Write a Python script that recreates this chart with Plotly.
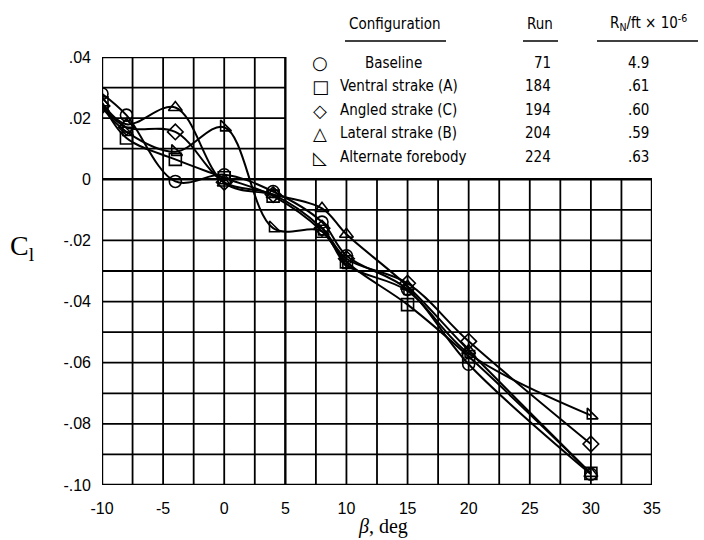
import plotly.graph_objects as go
import numpy as np

# ---- data ----
beta = [-10, -8, -4, 0, 4, 8, 10, 15, 20, 30]
baseline = [0.0280, 0.0210, -0.0007, 0.0015, -0.0040, -0.0140, -0.0250, -0.0360, -0.0605, -0.0965]
ventral_a = [0.0250, 0.0135, 0.0065, 0.0005, -0.0055, -0.0170, -0.0270, -0.0410, -0.0580, -0.0962]
angled_c = [0.0240, 0.0170, 0.0155, -0.0010, -0.0050, -0.0160, -0.0260, -0.0340, -0.0530, -0.0866]
lateral_b = [0.0250, 0.0180, 0.0235, -0.0012, -0.0050, -0.0095, -0.0180, -0.0350, -0.0560, -0.0962]
alt_fore = [0.0235, 0.0155, 0.0090, 0.0170, -0.0160, -0.0170, -0.0280, -0.0365, -0.0570, -0.0772]

series_names = ["Baseline", "Ventral strake (A)", "Angled strake (C)", "Lateral strake (B)", "Alternate forebody"]
runs = ["71", "184", "194", "204", "224"]
rn = ["4.9", ".61", ".60", ".59", ".63"]
legend_syms = ["○", "□", "◇", "△", "◺"]

x_ticks = [-10, -5, 0, 5, 10, 15, 20, 25, 30, 35]
x_ticktext = ["-10", "-5", "0", "5", "10", "15", "20", "25", "30", "35"]
y_ticks = [0.04, 0.02, 0, -0.02, -0.04, -0.06, -0.08, -0.10]
y_ticktext = [".04", ".02", "0", "-.02", "-.04", "-.06", "-.08", "-.10"]

# ---- layout geometry ----
W, H = 704, 540
L, R, T, B = 102, 52, 57, 55
PW, PH = W - L - R, H - T - B

def px(x):
    return (x - L) / PW

def py(y):
    return (H - B - y) / PH

symbols = ["circle-open", "square-open", "diamond-open", "triangle-up-open", "triangle-sw-open"]
all_series = [baseline, ventral_a, angled_c, lateral_b, alt_fore]

fig = go.Figure()
for name, ys, sym in zip(series_names, all_series, symbols):
    fig.add_trace(go.Scatter(
        x=beta, y=ys, name=name, mode="lines+markers",
        line=dict(color="black", width=2, shape="spline", smoothing=1.0),
        marker=dict(symbol=sym, size=12, color="black", line=dict(width=1.6, color="black")),
        showlegend=False,
    ))

shapes = []
gc = "black"
# vertical grid lines
for xv in np.arange(-10, 35.01, 2.5):
    ytop = 0.04 if xv <= 5.001 else 0.0
    w = 2.4 if xv in (-10, 35) or abs(xv - 5) < 1e-6 else 1.8
    shapes.append(dict(type="line", xref="x", yref="y", x0=xv, x1=xv, y0=-0.10, y1=ytop,
                       line=dict(color=gc, width=w), layer="below"))
# horizontal grid lines
for yv in np.round(np.arange(-0.10, 0.0401, 0.01), 3):
    xr = 35 if yv <= 0.0001 else 5
    w = 2.4 if yv in (-0.10, 0.04) or abs(yv) < 1e-6 else 1.8
    shapes.append(dict(type="line", xref="x", yref="y", x0=-10, x1=xr, y0=yv, y1=yv,
                       line=dict(color=gc, width=w), layer="below"))

# header underlines
for x0, x1 in [(345, 446), (523, 558), (597, 698)]:
    shapes.append(dict(type="line", xref="paper", yref="paper", x0=px(x0), x1=px(x1),
                       y0=py(41), y1=py(41), line=dict(color="black", width=1.6)))

ann = []
lf = "Liberation Sans Narrow, DejaVu Sans Condensed, Liberation Sans, sans-serif"
def txt(x, y, s, size=15, xanchor="left", family=lf):
    ann.append(dict(xref="paper", yref="paper", x=px(x), y=py(y), text=s, showarrow=False,
                    xanchor=xanchor, yanchor="middle", font=dict(size=size, family=family, color="black")))

txt(395, 24, "Configuration", xanchor="center")
txt(540, 24, "Run", xanchor="center")
txt(648, 22, "R<sub>N</sub>/ft × 10<sup>-6</sup>", xanchor="center")

row_y = [63, 86, 110, 133, 157]
for i, yy in enumerate(row_y):
    txt(320, yy, legend_syms[i], size=18, xanchor="center", family="DejaVu Sans")
    txt(363 if i == 0 else 338, yy, series_names[i])
    txt(553, yy, runs[i], xanchor="right")
    txt(651, yy, rn[i], xanchor="right")

# axis titles
ann.append(dict(xref="paper", yref="paper", x=px(22), y=py(247), text="C<sub>l</sub>", showarrow=False,
                xanchor="center", yanchor="middle",
                font=dict(size=28, family="Liberation Serif, DejaVu Serif, serif", color="black")))
ann.append(dict(xref="paper", yref="paper", x=px(383), y=py(526), text="<i>β</i>, deg", showarrow=False,
                xanchor="center", yanchor="middle",
                font=dict(size=20, family="Liberation Serif, DejaVu Serif, serif", color="black")))

tf = dict(size=16, family="Liberation Sans, Arial, sans-serif", color="black")
fig.update_layout(
    width=W, height=H,
    margin=dict(l=L, r=R, t=T, b=B),
    paper_bgcolor="white", plot_bgcolor="white",
    shapes=shapes, annotations=ann,
    xaxis=dict(range=[-10, 35], tickvals=x_ticks, ticktext=x_ticktext, showgrid=False,
               zeroline=False, showline=False, ticks="", ticklabelstandoff=12, tickfont=tf),
    yaxis=dict(range=[-0.10, 0.04], tickvals=y_ticks, ticktext=y_ticktext, showgrid=False,
               zeroline=False, showline=False, ticks="", ticklabelstandoff=10, tickfont=tf),
)

fig.write_html("out.html")
